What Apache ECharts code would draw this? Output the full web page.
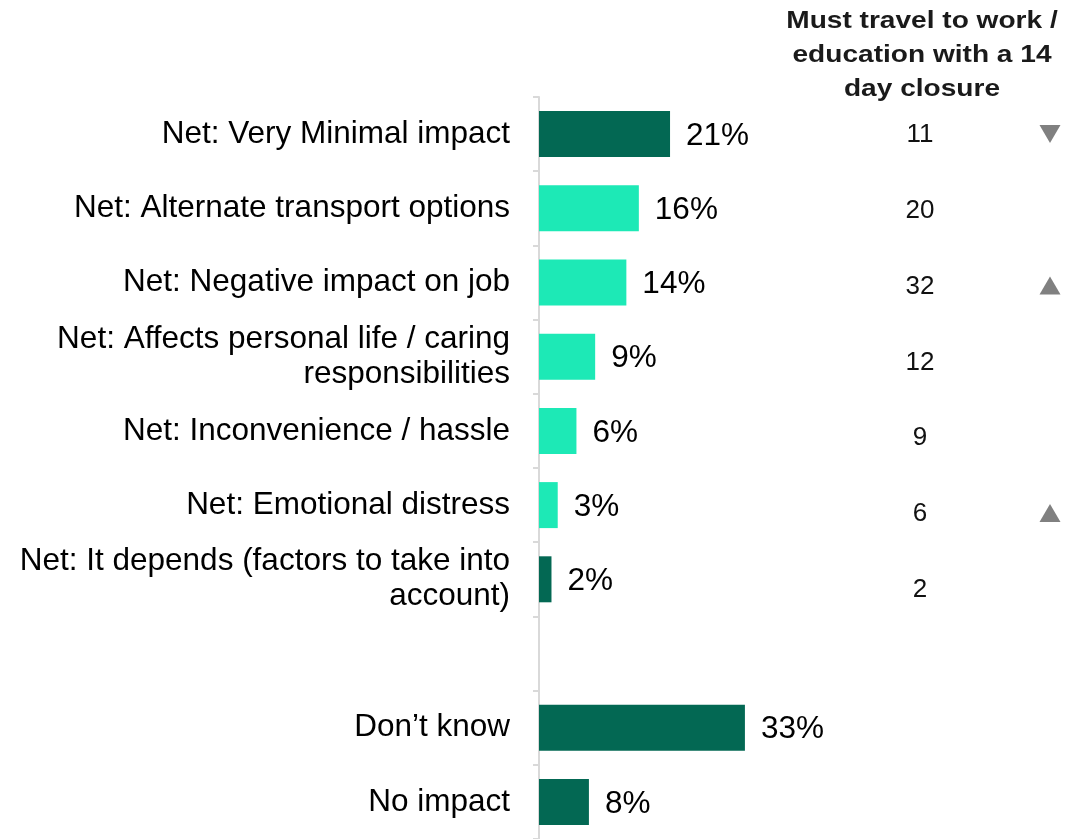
<!DOCTYPE html>
<html>
<head>
<meta charset="utf-8">
<script src="https://cdn.jsdelivr.net/npm/echarts@6/dist/echarts.min.js"></script>
<style>
  html, body { margin: 0; padding: 0; background: #fff; }
  #chart { width: 1068px; height: 839px; }
</style>
</head>
<body>
<div id="chart"></div>
<script>
// Response categories (blank entry is a spacer row)
const categories = [
  'Net: Very Minimal impact',
  'Net: Alternate transport options',
  'Net: Negative impact on job',
  'Net: Affects personal life / caring\nresponsibilities',
  'Net: Inconvenience / hassle',
  'Net: Emotional distress',
  'Net: It depends (factors to take into\naccount)',
  '',
  'Don\u2019t know',
  'No impact'
];
// Share of all respondents (%)
const totals = [21, 16, 14, 9, 6, 3, 2, null, 33, 8];
// Net theme rows drawn in the light colour
const highlight = [false, true, true, true, true, true, false, false, false, false];
// Sub-group: must travel to work / education with a 14 day closure
const travelValues = ['11', '20', '32', '12', '9', '6', '2', '', '', ''];
// Significance markers: 'down', 'up' or none
const sigMarkers = ['down', null, 'up', null, null, 'up', null, null, null, null];

const DARK = '#036853';
const LIGHT = '#1DE9B6';
const FONT = "'Liberation Sans', Arial, sans-serif";

const chart = echarts.init(document.getElementById('chart'));

const barData = totals.map((v, i) => v == null ? '-' : {
  value: v,
  itemStyle: { color: highlight[i] ? LIGHT : DARK }
});

// Sub-group column: x = column slot, y = row index
const travelData = travelValues
  .map((t, i) => t === '' ? null : { value: [1, i], label: { formatter: t } })
  .filter(Boolean);
const markerData = sigMarkers
  .map((m, i) => m ? { value: [2, i], symbolRotate: m === 'down' ? 180 : 0 } : null)
  .filter(Boolean);

chart.setOption({
  animation: false,
  textStyle: { fontFamily: FONT },
  graphic: [{
    type: 'text',
    x: 922,
    y: 4,
    scaleX: 1.17,
    style: {
      text: 'Must travel to work /\neducation with a 14\nday closure',
      align: 'center',
      verticalAlign: 'top',
      fontFamily: FONT,
      fontWeight: 'bold',
      fontSize: 24,
      lineHeight: 34,
      fill: '#1a1a1a'
    }
  }],
  grid: [
    // main bar chart (last band runs just past the bottom edge)
    { left: 539, top: 97, bottom: -6, width: 249.6, containLabel: false },
    // sub-group column (its own, slightly looser row pitch)
    { left: 790, top: 96, bottom: 0, width: 260, containLabel: false }
  ],
  xAxis: [
    { gridIndex: 0, type: 'value', min: 0, max: 40, show: false },
    { gridIndex: 1, type: 'value', min: 0, max: 2, show: false }
  ],
  yAxis: [
    {
      gridIndex: 0,
      type: 'category',
      inverse: true,
      data: categories,
      axisLine: { show: true, lineStyle: { color: '#d9d9d9', width: 2 } },
      axisTick: { show: true, length: 6, lineStyle: { color: '#d9d9d9', width: 2 } },
      axisLabel: {
        margin: 29,
        color: '#000',
        fontSize: 31.5,
        lineHeight: 35,
        align: 'right',
        padding: [4, 0, 0, 0],
        fontFamily: FONT
      }
    },
    {
      gridIndex: 1,
      type: 'value',
      inverse: true,
      min: -0.5,
      max: 9.3,
      show: false
    }
  ],
  series: [
    {
      type: 'bar',
      xAxisIndex: 0,
      yAxisIndex: 0,
      data: barData,
      barWidth: 46,
      label: {
        show: true,
        position: 'right',
        distance: 16,
        offset: [0, 2],
        formatter: '{c}%',
        color: '#000',
        fontSize: 31.5,
        fontFamily: FONT
      }
    },
    {
      type: 'scatter',
      xAxisIndex: 1,
      yAxisIndex: 1,
      data: travelData,
      symbolSize: 0,
      itemStyle: { opacity: 1 },
      label: {
        show: true,
        position: 'inside',
        color: '#111',
        fontSize: 26,
        fontFamily: FONT,
        offset: [0, 1]
      }
    },
    {
      type: 'scatter',
      xAxisIndex: 1,
      yAxisIndex: 1,
      data: markerData,
      symbol: 'triangle',
      symbolSize: [21, 18],
      itemStyle: { color: '#808080', opacity: 1 }
    }
  ]
});
</script>
</body>
</html>
